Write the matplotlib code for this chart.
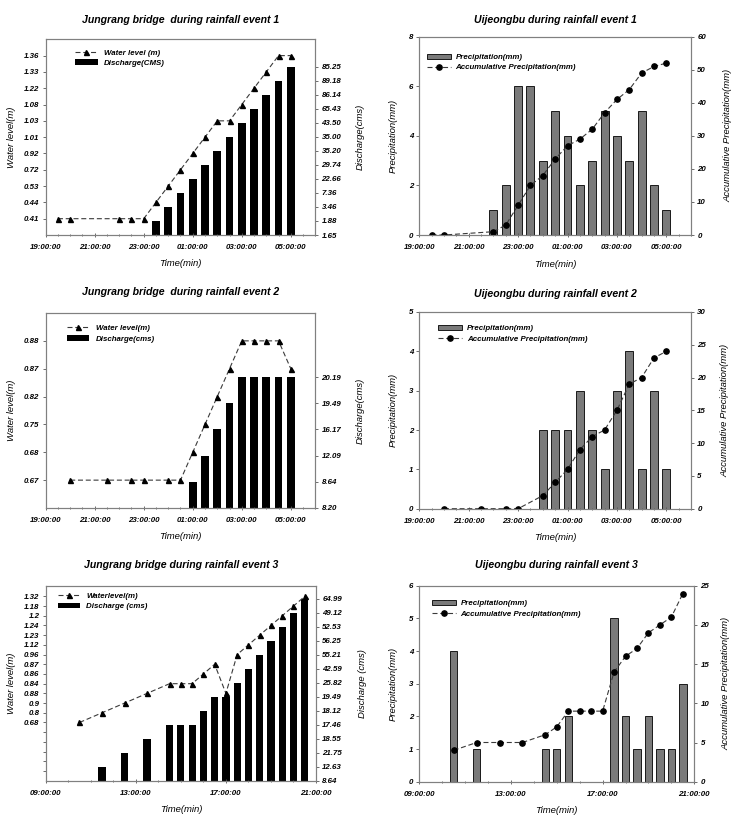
import matplotlib
matplotlib.use("Agg")
import matplotlib.pyplot as plt
import numpy as np
from matplotlib.ticker import MultipleLocator

plt.rcParams['font.family'] = ['Liberation Sans', 'DejaVu Sans']
plt.rcParams['font.weight'] = 'bold'
plt.rcParams['font.style'] = 'italic'

W, H = 732, 816

# ---------------- Jungrang bridge ----------------
# event 1
t1_level = [19.5, 20, 22, 22.5, 23, 23.5, 24, 24.5, 25, 25.5, 26, 26.5, 27, 27.5, 28, 28.5, 29]
level1 = [0.41, 0.41, 0.41, 0.41, 0.41, 0.44, 0.53, 0.72, 0.92, 1.01, 1.03, 1.03, 1.08, 1.22, 1.33, 1.36, 1.36]
t1_q = [23.5, 24, 24.5, 25, 25.5, 26, 26.5, 27, 27.5, 28, 28.5, 29]
q1 = [1.88, 3.46, 7.36, 22.66, 29.74, 35.20, 35.00, 43.50, 65.43, 86.14, 89.18, 85.25]
level1_ticks = ['0.41', '0.44', '0.53', '0.72', '0.92', '1.01', '1.03', '1.08', '1.22', '1.33', '1.36']
q1_ticks = ['1.65', '1.88', '3.46', '7.36', '22.66', '29.74', '35.20', '35.00', '43.50',
            '65.43', '86.14', '89.18', '85.25']

# event 2
t2_level = [20, 21.5, 22.5, 23, 24, 24.5, 25, 25.5, 26, 26.5, 27, 27.5, 28, 28.5, 29]
level2 = [0.67, 0.67, 0.67, 0.67, 0.67, 0.67, 0.68, 0.75, 0.82, 0.87, 0.88, 0.88, 0.88, 0.88, 0.87]
t2_q = [25, 25.5, 26, 26.5, 27, 27.5, 28, 28.5, 29]
q2 = [8.64, 12.09, 16.17, 19.49, 20.19, 20.19, 20.19, 20.19, 20.19]
level2_ticks = ['0.67', '0.68', '0.75', '0.82', '0.87', '0.88']
q2_ticks = ['8.20', '8.64', '12.09', '16.17', '19.49', '20.19']

# event 3
t3_level = [10.5, 11.5, 12.5, 13.5, 14.5, 15, 15.5, 16, 16.5, 17, 17.5, 18, 18.5, 19, 19.5, 20, 20.5]
level3 = [0.68, 0.8, 0.9, 0.88, 0.84, 0.84, 0.84, 0.86, 0.87, 0.88, 0.96, 1.12, 1.23, 1.24, 1.2, 1.18, 1.32]
t3_q = [11.5, 12.5, 13.5, 14.5, 15, 15.5, 16, 16.5, 17, 17.5, 18, 18.5, 19, 19.5, 20, 20.5]
q3 = [12.63, 21.75, 18.55, 17.46, 17.46, 17.46, 18.12, 19.49, 19.49, 25.82, 42.59, 55.21,
      56.25, 52.53, 49.12, 64.99]
level3_ticks = ['', '', '', '', '', '0.68', '0.8', '0.9', '0.88', '0.84', '0.86', '0.87',
                '0.96', '1.12', '1.23', '1.24', '1.2', '1.18', '1.32']
q3_ticks = ['8.64', '12.63', '21.75', '18.55', '17.46', '18.12', '19.49', '25.82', '42.59',
            '55.21', '56.25', '52.53', '49.12', '64.99']

# ---------------- Uijeongbu ----------------
tr1 = [22, 22.5, 23, 23.5, 24, 24.5, 25, 25.5, 26, 26.5, 27, 27.5, 28, 28.5, 29]
rain1 = [1, 2, 6, 6, 3, 5, 4, 2, 3, 5, 4, 3, 5, 2, 1]
tc1 = [19.5, 20, 22, 22.5, 23, 23.5, 24, 24.5, 25, 25.5, 26, 26.5, 27, 27.5, 28, 28.5, 29]
cum1 = [0, 0, 1, 3, 9, 15, 18, 23, 27, 29, 32, 37, 41, 44, 49, 51, 52]

tr2 = [24, 24.5, 25, 25.5, 26, 26.5, 27, 27.5, 28, 28.5, 29]
rain2 = [2, 2, 2, 3, 2, 1, 3, 4, 1, 3, 1]
tc2 = [20, 21.5, 22.5, 23, 24, 24.5, 25, 25.5, 26, 26.5, 27, 27.5, 28, 28.5, 29]
cum2 = [0, 0, 0, 0, 2, 4, 6, 9, 11, 12, 15, 19, 20, 23, 24]

tr3 = [10.5, 11.5, 14.5, 15, 15.5, 17.5, 18, 18.5, 19, 19.5, 20, 20.5]
rain3 = [4, 1, 1, 1, 2, 5, 2, 1, 2, 1, 1, 3]
tc3 = [10.5, 11.5, 12.5, 13.5, 14.5, 15, 15.5, 16, 16.5, 17, 17.5, 18, 18.5, 19, 19.5, 20, 20.5]
cum3 = [4, 5, 5, 5, 6, 7, 9, 9, 9, 9, 14, 16, 17, 19, 20, 21, 24]

# x axis ticks (hours, past midnight counted as 24+)
night_ticks = [19, 21, 23, 25, 27, 29]
day_ticks = [9, 13, 17, 21]

TITLE_FS = 7.6
LABEL_FS = 6.8
TICK_FS = 5.7
LEG_FS = 5.7
SPINE = '#808080'
DASH = '#3a3a3a'


def px_axes(fig, l, t, r, b):
    return fig.add_axes([l / W, 1 - b / H, (r - l) / W, (b - t) / H])


def to_pos(values, labels, offset):
    # the axes use ordered (categorical) tick labels, so a value sits on its label's slot
    nums = [float(s) if s else None for s in labels]
    return [nums.index(v) + offset for v in values]


def style_axes(ax, ax2, xlim, xticks, xminor):
    for a in (ax, ax2):
        for s in a.spines.values():
            s.set_color(SPINE)
            s.set_linewidth(0.8)
        a.tick_params(axis='y', direction='out', length=2.5, width=0.6,
                      labelsize=TICK_FS, color='#555555', pad=2)
    ax.set_xticks(xticks)
    ax.set_xticklabels([f"{int(h) % 24:02d}:00:00" for h in xticks])
    ax.set_xticks(np.arange(xlim[0], xlim[1] + 0.01, xminor), minor=True)
    ax.set_xlim(*xlim)
    ax.tick_params(axis='x', which='both', direction='inout', length=3, width=0.6,
                   labelsize=TICK_FS, color='#555555', pad=5)
    ax.tick_params(axis='x', which='minor', length=2)
    ax.set_xlabel('Time(min)', fontsize=LABEL_FS)
    ax.xaxis.set_label_coords(0.5, -0.125)


def title(fig, ax, text, ypx):
    box = ax.get_position()
    fig.text(box.x0 + box.width / 2, 1 - ypx / H, text, ha='center', va='center',
             fontsize=TITLE_FS)


def river_panel(fig, rect, ttl, ty, t_lvl, lvl, lvl_ticks, lvl_off, lvl_top,
                t_q, q, q_ticks, q_top, xlim, xticks, xminor, leg_labels, ylabels,
                leg_xy, lab_x):
    ax = px_axes(fig, *rect)
    ax2 = ax.twinx()
    ax2.bar(t_q, to_pos(q, q_ticks, 0), width=0.32, color='black', label=leg_labels[1])
    ax.plot(t_lvl, to_pos(lvl, lvl_ticks, lvl_off), color=DASH, lw=0.8, ls='--',
            dashes=(4.5, 2.5), marker='^', ms=3.6, mfc='black', mec='black',
            label=leg_labels[0])
    ax.set_zorder(ax2.get_zorder() + 1)
    ax.patch.set_visible(False)

    ax.set_ylim(0, lvl_top)
    ax.set_yticks(range(lvl_off, lvl_off + len(lvl_ticks)))
    ax.set_yticklabels(lvl_ticks)
    ax2.set_ylim(0, q_top)
    ax2.set_yticks(range(len(q_ticks)))
    ax2.set_yticklabels(q_ticks)

    style_axes(ax, ax2, xlim, xticks, xminor)
    ax.set_ylabel(ylabels[0], fontsize=LABEL_FS)
    ax2.set_ylabel(ylabels[1], fontsize=LABEL_FS)
    ax.yaxis.set_label_coords(lab_x[0], 0.5)
    ax2.yaxis.set_label_coords(lab_x[1], 0.5)

    h1, l1 = ax.get_legend_handles_labels()
    h2, l2 = ax2.get_legend_handles_labels()
    ax.legend(h1 + h2, l1 + l2, loc='upper left', bbox_to_anchor=leg_xy, frameon=False,
              fontsize=LEG_FS, borderpad=0, borderaxespad=0, handlelength=2.8,
              handletextpad=0.8, labelspacing=0.35)
    title(fig, ax, ttl, ty)


def rain_panel(fig, rect, ttl, ty, tr, rain, tc, cum, ylim1, step1, ylim2, step2,
               xlim, xticks, xminor, leg_xy, lab_x):
    ax = px_axes(fig, *rect)
    ax2 = ax.twinx()
    ax.bar(tr, rain, width=0.32, color='#7a7a7a', edgecolor='black', linewidth=0.6,
           label='Precipitation(mm)')
    ax2.plot(tc, cum, color=DASH, lw=0.8, ls='--', dashes=(4.5, 2.5), marker='o', ms=3.8,
             mfc='black', mec='black', label='Accumulative Precipitation(mm)')
    ax.set_ylim(0, ylim1)
    ax.yaxis.set_major_locator(MultipleLocator(step1))
    ax2.set_ylim(0, ylim2)
    ax2.yaxis.set_major_locator(MultipleLocator(step2))

    style_axes(ax, ax2, xlim, xticks, xminor)
    ax.set_ylabel('Precipitation(mm)', fontsize=LABEL_FS)
    ax2.set_ylabel('Accumulative Precipitation(mm)', fontsize=LABEL_FS)
    ax.yaxis.set_label_coords(lab_x[0], 0.5)
    ax2.yaxis.set_label_coords(lab_x[1], 0.5)

    h1, l1 = ax.get_legend_handles_labels()
    h2, l2 = ax2.get_legend_handles_labels()
    ax2.legend(h1 + h2, l1 + l2, loc='upper left', bbox_to_anchor=leg_xy, frameon=False,
               fontsize=LEG_FS, borderpad=0, borderaxespad=0, handlelength=3.0,
               handletextpad=0.6, labelspacing=0.35)
    title(fig, ax, ttl, ty)


fig = plt.figure(figsize=(W / 100, H / 100), dpi=100)

river_panel(fig, (45.7, 39.3, 315.3, 235), 'Jungrang bridge  during rainfall event 1', 20,
            t1_level, level1, level1_ticks, 1, 12.0, t1_q, q1, q1_ticks, 13.95,
            (19, 30), night_ticks, 0.5, ['Water level (m)', 'Discharge(CMS)'],
            ['Water level(m)', 'Discharge(cms)'], (0.11, 0.95), (-0.11, 1.15))
river_panel(fig, (45.7, 313, 315.3, 508), 'Jungrang bridge  during rainfall event 2', 292,
            t2_level, level2, level2_ticks, 1, 7.0, t2_q, q2, q2_ticks, 7.45,
            (19, 30), night_ticks, 0.5, ['Water level(m)', 'Discharge(cms)'],
            ['Water level(m)', 'Discharge(cms)'], (0.08, 0.94), (-0.11, 1.15))
river_panel(fig, (45.7, 585.7, 316, 780.7), 'Jungrang bridge during rainfall event 3', 565,
            t3_level, level3, level3_ticks, 1, 20.1, t3_q, q3, q3_ticks, 13.95,
            (9, 21), day_ticks, 1, ['Waterlevel(m)', 'Discharge (cms)'],
            ['Water level(m)', 'Discharge (cms)'], (0.045, 0.965), (-0.11, 1.155))

rain_panel(fig, (419.3, 36.7, 691, 235), 'Uijeongbu during rainfall event 1', 20,
           tr1, rain1, tc1, cum1, 8, 2, 60, 10, (19, 30), night_ticks, 0.5,
           (0.028, 0.915), (-0.08, 1.12))
rain_panel(fig, (419.3, 312, 691, 508.7), 'Uijeongbu during rainfall event 2', 294,
           tr2, rain2, tc2, cum2, 5, 1, 30, 5, (19, 30), night_ticks, 0.5,
           (0.07, 0.935), (-0.08, 1.11))
rain_panel(fig, (419.3, 585.7, 694.3, 781.7), 'Uijeongbu during rainfall event 3', 565,
           tr3, rain3, tc3, cum3, 6, 1, 25, 5, (9, 21), day_ticks, 1,
           (0.046, 0.928), (-0.08, 1.10))

fig.savefig('out.png', dpi=100)
